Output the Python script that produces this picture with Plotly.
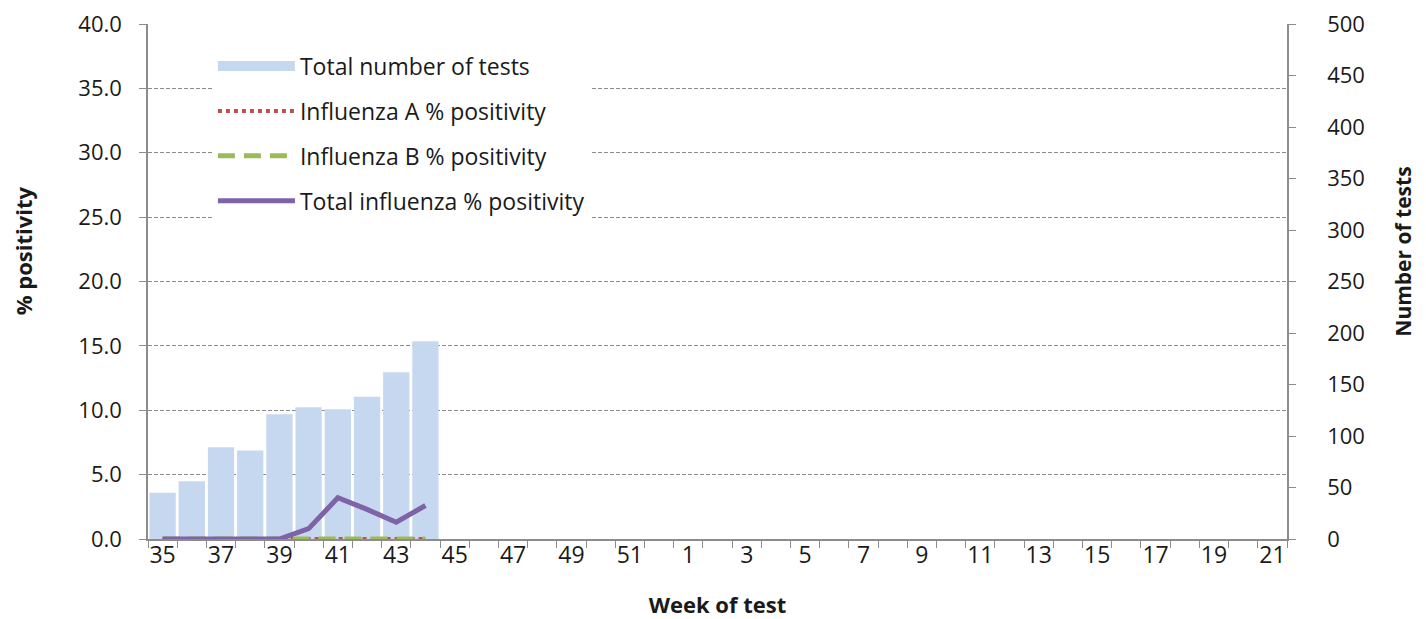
import plotly.graph_objects as go

weeks = [str(w) for w in list(range(35, 53)) + list(range(1, 22))]
tick_labels = [w if i % 2 == 0 else "" for i, w in enumerate(weeks)]

data_weeks = ["35", "36", "37", "38", "39", "40", "41", "42", "43", "44"]
total_tests = [45, 56, 89, 86, 121, 128, 126, 138, 162, 192]
flu_a_pct = [0, 0, 0, 0, 0, 0, 0, 0, 0, 0]
flu_b_pct = [0, 0, 0, 0, 0, 0, 0, 0, 0, 0]
total_flu_pct = [0, 0, 0, 0, 0, 0.8, 3.2, 2.3, 1.3, 2.6]

pct_ticks = [0, 5, 10, 15, 20, 25, 30, 35, 40]
pct_labels = ["0.0", "5.0", "10.0", "15.0", "20.0", "25.0", "30.0", "35.0", "40.0"]
test_ticks = list(range(0, 501, 50))

FONT = "'Open Sans', Lato, sans-serif"
AXIS_GRAY = "#8c8c8c"
BAR_COLOR = "#c6d8ef"

fig = go.Figure()
# bars on the primary (right-side) axis so the lines overlay them
fig.add_trace(go.Bar(
    x=data_weeks, y=total_tests, name="Total number of tests",
    marker=dict(color=BAR_COLOR, line=dict(width=0)),
    yaxis="y", showlegend=False,
))
# legend stand-in for the bar series (wide rectangle symbol)
fig.add_trace(go.Scatter(
    x=[None], y=[None], name="Total number of tests", mode="lines",
    line=dict(color=BAR_COLOR, width=14), yaxis="y2", legendgroup="g1",
))
fig.add_trace(go.Scatter(
    x=data_weeks, y=flu_a_pct, name="Influenza A % positivity",
    mode="lines", line=dict(color="#c0504d", width=4, dash="dot"),
    yaxis="y2", legendgroup="g2",
))
fig.add_trace(go.Scatter(
    x=data_weeks, y=flu_b_pct, name="Influenza B % positivity",
    mode="lines", line=dict(color="#9bbb59", width=5, dash="17px,9px"),
    yaxis="y2", legendgroup="g3",
))
fig.add_trace(go.Scatter(
    x=data_weeks, y=total_flu_pct, name="Total influenza % positivity",
    mode="lines", line=dict(color="#7f62a8", width=5),
    yaxis="y2", legendgroup="g4",
))

fig.update_layout(
    width=1426, height=619,
    margin=dict(l=140, r=147, t=16, b=88, autoexpand=False),
    paper_bgcolor="white", plot_bgcolor="white",
    font=dict(family=FONT, size=22, color="#1a1a1a"),
    bargap=0.1,
    showlegend=True,
    legend=dict(
        x=0.057, y=0.96, xanchor="left", yanchor="top",
        bgcolor="white", font=dict(size=23, family=FONT),
        tracegroupgap=12, traceorder="grouped", itemwidth=77,
    ),
    xaxis=dict(
        type="category", categoryorder="array", categoryarray=weeks,
        tickmode="array", tickvals=weeks, ticktext=tick_labels,
        tickson="boundaries", ticks="outside", ticklen=7, tickcolor=AXIS_GRAY,
        showline=True, linecolor=AXIS_GRAY, linewidth=1.5,
        showgrid=False, range=[-0.5, len(weeks) - 0.5],
        tickangle=0, automargin=False, ticklabelstandoff=-5,
        ticklabeloverflow="allow",
        tickfont=dict(size=23),
        title=dict(text="<b>Week of test</b>", font=dict(size=22), standoff=28),
    ),
    yaxis=dict(
        side="right", range=[0, 500], tickvals=test_ticks,
        ticks="outside", ticklen=7, tickcolor=AXIS_GRAY,
        showline=True, linecolor=AXIS_GRAY, linewidth=1.5,
        showgrid=False, zeroline=False, tickfont=dict(size=22),
        automargin=False, ticklabelstandoff=27, ticklabeloverflow="allow",
    ),
    yaxis2=dict(
        overlaying="y", side="left", range=[0, 40],
        tickvals=pct_ticks, ticktext=pct_labels,
        ticks="outside", ticklen=7, tickcolor=AXIS_GRAY,
        showline=True, linecolor=AXIS_GRAY, linewidth=1.5,
        showgrid=True, gridcolor="#8a8a8a", griddash="4px,2px", gridwidth=1,
        zeroline=False, tickfont=dict(size=22), automargin=False,
        ticklabelstandoff=13, ticklabeloverflow="allow",
    ),
    annotations=[
        dict(text="<b>% positivity</b>", textangle=-90, xref="paper", yref="paper",
             x=-0.11, y=0.56, xanchor="center", yanchor="middle",
             showarrow=False, font=dict(size=22, family=FONT, color="#1a1a1a")),
        dict(text="<b>Number of tests</b>", textangle=-90, xref="paper", yref="paper",
             x=1.1019, y=0.558, xanchor="center", yanchor="middle",
             showarrow=False, font=dict(size=21, family=FONT, color="#1a1a1a")),
    ],
)

fig.write_html("out.html")
